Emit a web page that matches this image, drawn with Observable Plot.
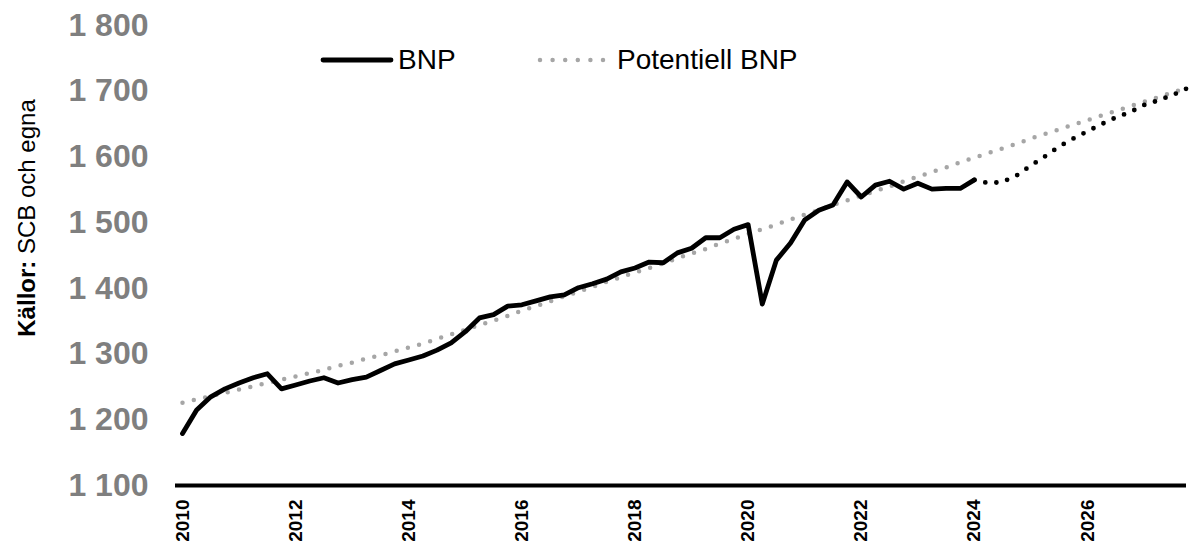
<!DOCTYPE html>
<html>
<head>
<meta charset="utf-8">
<script src="https://cdn.jsdelivr.net/npm/d3@7"></script>
<script src="https://cdn.jsdelivr.net/npm/@observablehq/plot@0.6"></script>
<style>
  html, body { margin: 0; padding: 0; background: #fff; }
  #wrap { position: relative; width: 1191px; height: 548px; font-family: "Liberation Sans", Arial, sans-serif; }
  .leg { position: absolute; font-size: 28px; line-height: 28px; color: #000; white-space: nowrap; }
  .legsvg { position: absolute; }
</style>
</head>
<body>
<div id="wrap"></div>
<script>
// Quarterly series, 2010 K1 .. 2027 K4
const startYear = 2010;
const nQuarters = 72;

// BNP (outcome) 2010 K1 .. 2024 K1
const bnp = [
  1179, 1215, 1235, 1247, 1256, 1264, 1270, 1247,
  1253, 1259, 1264, 1256, 1261, 1265, 1275, 1285,
  1291, 1297, 1306, 1317, 1334, 1355, 1360, 1373,
  1375, 1381, 1387, 1390, 1401, 1407, 1414, 1425,
  1431, 1440, 1439, 1454, 1461, 1477, 1477, 1490,
  1497, 1376, 1443, 1469, 1504, 1519, 1527, 1562,
  1539, 1557, 1563, 1551, 1560, 1551, 1552, 1552,
  1565
];

// BNP forecast 2024 K1 .. 2027 K4
const bnpForecast = [
  1565, 1560, 1562, 1572, 1587, 1601, 1616, 1628,
  1639, 1650, 1660, 1668, 1679, 1686, 1694, 1704
];

// Potentiell BNP 2010 K1 .. 2027 K4
const potential = [
  1226, 1231, 1236, 1241, 1246, 1251, 1256, 1261,
  1266, 1271, 1276, 1282, 1287, 1293, 1298, 1304,
  1310, 1316, 1323, 1330, 1337, 1344, 1351, 1358,
  1366, 1373, 1380, 1388, 1395, 1402, 1410, 1417,
  1424, 1431, 1438, 1446, 1453, 1460, 1468, 1475,
  1483, 1490, 1497, 1505, 1512, 1519, 1527, 1534,
  1541, 1548, 1555, 1563, 1570, 1577, 1584, 1592,
  1599, 1606, 1613, 1620, 1628, 1635, 1642, 1649,
  1656, 1663, 1670, 1677, 1684, 1691, 1698, 1705
];

const yTicks = [1100, 1200, 1300, 1400, 1500, 1600, 1700, 1800];
const xTicks = [2010, 2012, 2014, 2016, 2018, 2020, 2022, 2024, 2026];
const seriesNames = ["BNP", "Potentiell BNP"];
const sourceBold = "Källor:";
const sourceText = " SCB och egna";

const qTime = i => startYear + i / 4;
const bnpRows = bnp.map((v, i) => ({t: qTime(i), v}));
const fcRows = bnpForecast.map((v, i) => ({t: qTime(i + bnp.length - 1), v}));
const potRows = potential.map((v, i) => ({t: qTime(i), v}));

const fmt = d3.formatLocale({decimal: ",", thousands: " ", grouping: [3], currency: ["", ""]}).format(",");
const font = "'Liberation Sans', Arial, sans-serif";

const chart = Plot.plot({
  width: 1191,
  height: 548,
  marginTop: 25,
  marginBottom: 63,
  marginLeft: 182,
  marginRight: 5,
  style: {fontFamily: font, background: "white"},
  x: {domain: [startYear, qTime(nQuarters - 1)], label: null},
  y: {domain: [1100, 1800], label: null},
  marks: [
    Plot.axisY({ticks: yTicks, tickSize: 0, tickPadding: 34, tickFormat: fmt,
      fontSize: 32, fontWeight: "bold", fill: "#7f7f7f", label: null}),
    Plot.axisX({ticks: xTicks, tickSize: 0, tickPadding: 14, tickRotate: -90,
      tickFormat: d => String(d), fontSize: 19, fontWeight: "bold", fill: "#000", label: null}),
    Plot.line(potRows, {x: "t", y: "v", stroke: "#a6a6a6", strokeWidth: 4.5,
      strokeDasharray: "0 11.6", strokeLinecap: "round"}),
    Plot.line(fcRows, {x: "t", y: "v", stroke: "#000", strokeWidth: 4.8,
      strokeDasharray: "0 11.2", strokeLinecap: "round"}),
    Plot.line(bnpRows, {x: "t", y: "v", stroke: "#000", strokeWidth: 4.8,
      strokeLinejoin: "round", strokeLinecap: "round"}),
    Plot.ruleY([1100], {stroke: "#000", strokeWidth: 4, insetLeft: -7})
  ]
});

const wrap = document.getElementById("wrap");
wrap.appendChild(chart);

// Source label (rotated, left side)
const svg = d3.select(chart);
const src = svg.append("text")
  .attr("transform", "translate(35,218) rotate(-90)")
  .attr("text-anchor", "middle")
  .attr("font-family", font)
  .attr("font-size", 24)
  .attr("fill", "#000");
src.append("tspan").attr("font-weight", "bold").text(sourceBold);
src.append("tspan").text(sourceText);

// Legend (inside plot area)
function addLegend() {
  const ns = "http://www.w3.org/2000/svg";
  const s1 = d3.create("svg").attr("class", "legsvg").attr("width", 80).attr("height", 12)
    .style("left", "318px").style("top", "54px");
  s1.append("line").attr("x1", 5).attr("x2", 73).attr("y1", 6).attr("y2", 6)
    .attr("stroke", "#000").attr("stroke-width", 4.8).attr("stroke-linecap", "round");
  wrap.appendChild(s1.node());
  const t1 = document.createElement("div");
  t1.className = "leg"; t1.textContent = seriesNames[0];
  t1.style.left = "398px"; t1.style.top = "46px";
  wrap.appendChild(t1);
  const s2 = d3.create("svg").attr("class", "legsvg").attr("width", 80).attr("height", 12)
    .style("left", "536px").style("top", "54px");
  s2.append("line").attr("x1", 4).attr("x2", 68).attr("y1", 6).attr("y2", 6)
    .attr("stroke", "#a6a6a6").attr("stroke-width", 4.5).attr("stroke-linecap", "round")
    .attr("stroke-dasharray", "0 12.6");
  wrap.appendChild(s2.node());
  const t2 = document.createElement("div");
  t2.className = "leg"; t2.textContent = seriesNames[1];
  t2.style.left = "617px"; t2.style.top = "46px";
  wrap.appendChild(t2);
}
addLegend();
</script>
</body>
</html>
